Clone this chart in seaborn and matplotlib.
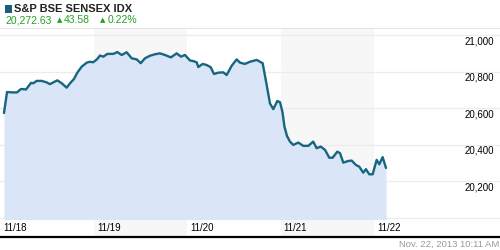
import matplotlib
matplotlib.use("Agg")
import matplotlib.pyplot as plt
from matplotlib.patches import Rectangle
import seaborn as sns
import pandas as pd

# ---- data (fractional trading days since 11/18 open, index level) ----
day_pos = [0.035, 0.068, 0.121, 0.175, 0.218, 0.271, 0.325, 0.349, 0.386, 0.439,
           0.493, 0.528, 0.564, 0.607, 0.654, 0.707, 0.743, 0.786, 0.821, 0.868,
           0.922, 0.957, 0.992,
           1.035, 1.064, 1.100, 1.143, 1.207, 1.250, 1.297, 1.350, 1.404, 1.458,
           1.501, 1.547, 1.600, 1.654, 1.707, 1.761, 1.825, 1.886, 1.932, 1.975,
           2.029, 2.061, 2.101, 2.118, 2.165, 2.208, 2.251, 2.286, 2.332, 2.386,
           2.422, 2.476, 2.529, 2.565, 2.618, 2.672, 2.744, 2.808, 2.851, 2.886,
           2.922, 2.965, 2.994,
           3.020, 3.042, 3.069, 3.101, 3.136, 3.190, 3.243, 3.297, 3.350, 3.387,
           3.430, 3.476, 3.522, 3.558, 3.608, 3.637, 3.672, 3.726, 3.762, 3.808,
           3.843, 3.886, 3.915, 3.951, 3.987,
           4.030, 4.058, 4.094, 4.130]
index_level = [20574, 20689, 20687, 20687, 20706, 20703, 20739, 20737, 20750, 20750,
               20742, 20732, 20742, 20753, 20737, 20713, 20737, 20761, 20795, 20828,
               20850, 20855, 20852,
               20870, 20889, 20883, 20898, 20898, 20908, 20892, 20907, 20874, 20868,
               20847, 20874, 20888, 20896, 20901, 20892, 20879, 20901, 20883, 20892,
               20862, 20859, 20852, 20826, 20843, 20837, 20825, 20788, 20795, 20797,
               20782, 20833, 20868, 20850, 20843, 20855, 20865, 20847, 20728, 20627,
               20595, 20640, 20633,
               20580, 20498, 20448, 20417, 20399, 20412, 20394, 20394, 20417, 20381,
               20390, 20372, 20329, 20329, 20362, 20354, 20302, 20311, 20313, 20289,
               20280, 20247, 20266, 20238, 20238,
               20317, 20293, 20332, 20273]

day_labels = ["11/18", "11/19", "11/20", "11/21", "11/22"]
shaded_days = [1, 3]
y_ticks = [20000, 20200, 20400, 20600, 20800, 21000]
y_tick_labels = ["", "20,200", "20,400", "20,600", "20,800", "21,000"]

title = "S&P BSE SENSEX IDX"
last_value = "20,272.63"
change = "43.58"
change_pct = "0.22%"
timestamp = "Nov. 22, 2013 10:11 AM"

# ---- style ----
sns.set_theme(style="white")
plt.rcParams["font.family"] = ["Liberation Sans", "DejaVu Sans"]

LINE = "#17657f"
FILL = "#dae5f7"
BAND = "#f7f7f7"
GRID = "#ececec"
GREEN = "#22a022"

fig = plt.figure(figsize=(5, 2.5), dpi=100)
fig.patch.set_facecolor("white")
ax = fig.add_axes([0, 0.054, 1, 0.834])
ax.set_facecolor("white")

df = pd.DataFrame({"t": day_pos, "value": index_level})

xmin, xmax = -0.0075, 5.352
ymin, ymax = 19897, 21040
fill_base = 19990

for d in shaded_days:
    ax.axvspan(d, d + 1, color=BAND, lw=0, zorder=0)
for v in y_ticks:
    ax.axhline(v, color=GRID, lw=0.9, zorder=1)

ax.fill_between(df["t"], df["value"], fill_base, color=FILL, lw=0, zorder=2)
sns.lineplot(data=df, x="t", y="value", ax=ax, color=LINE, linewidth=1.7, zorder=3)

ax.set_xlim(xmin, xmax)
ax.set_ylim(ymin, ymax)
ax.set_xticks([])
ax.set_yticks([])
ax.set_xlabel("")
ax.set_ylabel("")
for s in ["left", "right"]:
    ax.spines[s].set_visible(False)
ax.spines["top"].set_color("#e6e6e6")
ax.spines["top"].set_linewidth(0.8)
ax.spines["bottom"].set_color("black")
ax.spines["bottom"].set_linewidth(1.6)

# y labels on the right, just below gridlines
for v, lab in zip(y_ticks, y_tick_labels):
    if lab:
        ax.annotate(lab, xy=(0.988, v), xycoords=("axes fraction", "data"),
                    xytext=(0, -6), textcoords="offset pixels",
                    ha="right", va="center", fontsize=7, color="black")

# x day labels
for i, lab in enumerate(day_labels):
    ax.annotate(lab, xy=(i, 19946), xycoords="data",
                xytext=(3, 0), textcoords="offset pixels",
                ha="left", va="center", fontsize=7, color="black")

# header
fig.patches.append(Rectangle((0.010, 0.950), 0.014, 0.028, transform=fig.transFigure,
                             facecolor="#1b5f7a", edgecolor="none"))
fig.text(0.028, 0.965, title, fontsize=8, fontweight="bold", color="#222222",
         ha="left", va="center")
fig.text(0.010, 0.919, last_value, fontsize=7.5, color=GREEN, ha="left", va="center")
fig.text(0.114, 0.921, "\u25b2", fontsize=5, color=GREEN, ha="left", va="center",
         family=["DejaVu Sans"])
fig.text(0.127, 0.919, change, fontsize=7.5, color=GREEN, ha="left", va="center")
fig.text(0.200, 0.921, "\u25b2", fontsize=5, color=GREEN, ha="left", va="center",
         family=["DejaVu Sans"])
fig.text(0.215, 0.919, change_pct, fontsize=7.5, color=GREEN, ha="left", va="center")

fig.text(0.998, 0.022, timestamp, fontsize=6.8, color="#999999", ha="right", va="center")

fig.savefig("out.png", dpi=100, facecolor="white")
